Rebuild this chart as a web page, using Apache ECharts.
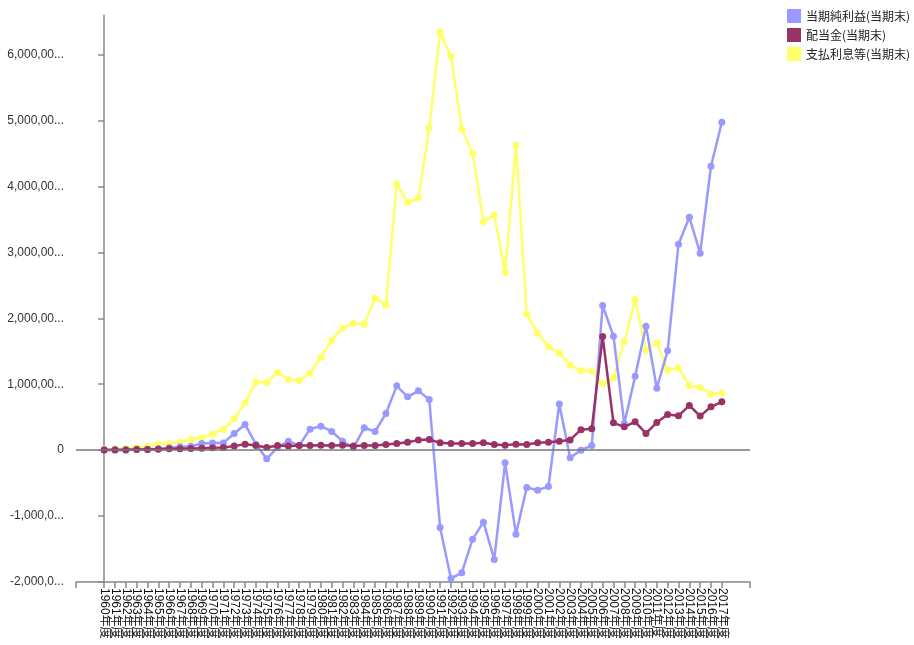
<!DOCTYPE html>
<html>
<head>
<meta charset="utf-8">
<script src="https://cdn.jsdelivr.net/npm/echarts@6/dist/echarts.min.js"></script>
<style>html,body{margin:0;padding:0;background:#fff;}#c{width:914px;height:645px;}</style>
</head>
<body>
<div id="c"></div>
<script>
// Categories: fiscal years
const years = [];
for (let y = 1960; y <= 2017; y++) years.push(y + '年度');

// Values in millions
const netIncome = [5,10,10,15,15,20,35,50,60,100,110,110,253,390,91,-131,40,136,70,318,364,283,136,35,339,283,556,975,808,899,768,-1172,-1946,-1860,-1350,-1092,-1658,-192,-1274,-566,-607,-551,700,-115,0,70,2194,1729,405,1122,1880,940,1506,3124,3533,2987,4306,4973];
const dividends = [3,2,3,10,10,15,20,20,25,30,35,40,61,91,71,40,71,61,71,71,76,71,76,61,71,71,86,101,120,152,162,111,101,101,101,111,86,76,91,86,111,121,136,155,310,325,1724,414,354,430,253,420,541,520,678,516,657,733];
const interest = [15,20,30,41,56,91,102,121,167,186,243,318,475,717,1036,1027,1178,1072,1057,1168,1410,1668,1850,1925,1910,2305,2200,4033,3760,3821,4887,6343,5979,4872,4499,3468,3568,2694,4625,2062,1775,1570,1475,1290,1205,1200,1011,1092,1648,2290,1516,1627,1213,1248,981,951,849,869];

const seriesNames = ['当期純利益(当期末)', '配当金(当期末)', '支払利息等(当期末)'];
const colors = ['#9999ff', '#993366', '#ffff66'];

const idx = years.map((_, i) => i);
const toPairs = arr => arr.map((v, i) => [i, v]);
const xMin = -2.6, xMax = 59.6;

const chart = echarts.init(document.getElementById('c'), null, {renderer: 'canvas'});
const font = "'Liberation Sans', Arial, 'Noto Sans CJK JP', sans-serif";

chart.setOption({
  animation: false,
  backgroundColor: '#fff',
  grid: {left: 76, right: 164, top: 15, bottom: 63, containLabel: false},
  legend: {
    orient: 'vertical', left: 787, top: 9, padding: 0,
    itemWidth: 14, itemHeight: 14, itemGap: 5,
    icon: 'rect',
    data: seriesNames,
    textStyle: {fontSize: 12, color: '#222', fontFamily: "'Noto Sans CJK JP', sans-serif"}
  },
  xAxis: {
    type: 'value',
    min: xMin, max: xMax,
    axisLine: {onZero: false, lineStyle: {color: '#888', width: 1.5}},
    axisTick: {show: true, length: 6, lineStyle: {color: '#888', width: 1.5}, customValues: [xMin].concat(idx).concat([xMax])},
    axisLabel: {
      customValues: [xMin].concat(idx).concat([xMax]),
      showMinLabel: true, showMaxLabel: true, hideOverlap: false,
      rotate: -90, margin: 6,
      fontSize: 12, lineHeight: 9, color: '#111', fontFamily: font,
      formatter: v => (Number.isInteger(v) && years[v]) ? years[v] : ''
    },
    splitLine: {show: false}
  },
  yAxis: {
    type: 'value',
    min: -2000, max: 6600, interval: 1000,
    axisLine: {show: true, lineStyle: {color: '#888', width: 1.5}},
    axisTick: {show: true, length: 6, lineStyle: {color: '#888', width: 1.5}},
    axisLabel: {
      showMaxLabel: false,
      margin: 12, fontSize: 12, color: '#333', fontFamily: font,
      width: 60, overflow: 'truncate', ellipsis: '...',
      formatter: v => echarts.format.addCommas(v * 1000000)
    },
    splitLine: {show: false}
  },
  series: [
    {
      name: seriesNames[2], type: 'line', data: toPairs(interest), z: 2,
      color: colors[2], symbol: 'circle', symbolSize: 7,
      lineStyle: {width: 2.5, color: colors[2]}, itemStyle: {color: colors[2]},
      markLine: {
        silent: true, symbol: 'none', label: {show: false},
        lineStyle: {color: '#777', width: 1.5, type: 'solid'},
        data: [{yAxis: 0}]
      }
    },
    {
      name: seriesNames[0], type: 'line', data: toPairs(netIncome), z: 3,
      color: colors[0], symbol: 'circle', symbolSize: 7,
      lineStyle: {width: 2.5, color: colors[0]}, itemStyle: {color: colors[0]}
    },
    {
      name: seriesNames[1], type: 'line', data: toPairs(dividends), z: 4,
      color: colors[1], symbol: 'circle', symbolSize: 7,
      lineStyle: {width: 2.5, color: colors[1]}, itemStyle: {color: colors[1]}
    }
  ]
});
</script>
</body>
</html>
